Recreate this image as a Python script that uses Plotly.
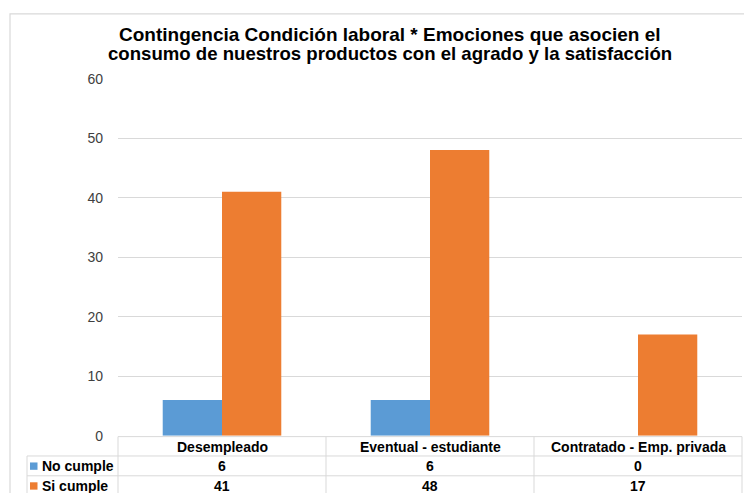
import plotly.graph_objects as go

# Contingency data: employment status vs. emotions linked to the products
categories = ["Desempleado", "Eventual - estudiante", "Contratado - Emp. privada"]
no_cumple = [6, 6, 0]
si_cumple = [41, 48, 17]
series_names = ["No cumple", "Si cumple"]
y_ticks = [0, 10, 20, 30, 40, 50, 60]
title_lines = ["Contingencia Condición laboral * Emociones que asocien el",
               "consumo de nuestros productos con el agrado y la satisfacción"]

BLUE = "#5B9BD5"
ORANGE = "#ED7D31"
GRID = "#D9D9D9"
W, H = 744, 493
FONT = "Liberation Sans, Arial, sans-serif"


def px(x):
    return x / W


def py(y):
    return 1 - y / H


# vertical layout (pixels from the top of the figure)
Y_FRAME = 6
Y_TITLE = [27, 47.5]
Y_PLOT_TOP = 73
Y_PLOT_BOTTOM = 442
ROW_LINES = [443, 463, 483.5]
Y_HEADER = 454
Y_ROWS = [473.5, 494]

fig = go.Figure()
fig.add_bar(x=categories, y=no_cumple, name=series_names[0], marker_color=BLUE,
            marker_line_width=0)
fig.add_bar(x=categories, y=si_cumple, name=series_names[1], marker_color=ORANGE,
            marker_line_width=0)

shapes = []
annotations = []

# outer chart frame
shapes.append(dict(type="rect", xref="paper", yref="paper",
                   x0=px(10), x1=px(746), y0=py(505), y1=py(Y_FRAME),
                   line=dict(color=GRID, width=1.2), fillcolor="rgba(0,0,0,0)", layer="below"))

# data table grid
x_left, x_plot, x_right = 27, 118, 742
col_w = (x_right - x_plot) / len(categories)
for i, yy in enumerate(ROW_LINES):
    x0 = x_plot if i == 0 else x_left
    shapes.append(dict(type="line", xref="paper", yref="paper",
                       x0=px(x0), x1=px(x_right), y0=py(yy), y1=py(yy),
                       line=dict(color=GRID, width=1)))
for k in range(len(categories) + 1):
    xx = x_plot + k * col_w
    shapes.append(dict(type="line", xref="paper", yref="paper",
                       x0=px(xx), x1=px(xx), y0=py(ROW_LINES[0]), y1=py(505),
                       line=dict(color=GRID, width=1)))
shapes.append(dict(type="line", xref="paper", yref="paper",
                   x0=px(x_left), x1=px(x_left), y0=py(ROW_LINES[1]), y1=py(505),
                   line=dict(color=GRID, width=1)))

cell_font = dict(family=FONT, size=14, color="#000000")

# header row with category names
for c in categories:
    annotations.append(dict(x=c, y=py(Y_HEADER), xref="x", yref="paper", text="<b>%s</b>" % c,
                            showarrow=False, font=cell_font, xanchor="center", yanchor="middle"))

# value rows
for row_y, vals in zip(Y_ROWS, (no_cumple, si_cumple)):
    for c, v in zip(categories, vals):
        annotations.append(dict(x=c, y=py(row_y), xref="x", yref="paper", text="<b>%d</b>" % v,
                                showarrow=False, font=cell_font, xanchor="center", yanchor="middle"))

# legend keys in the first column
for row_y, name, col in zip(Y_ROWS, series_names, (BLUE, ORANGE)):
    shapes.append(dict(type="rect", xref="paper", yref="paper",
                       x0=px(30), x1=px(37.5), y0=py(row_y + 3.8), y1=py(row_y - 3.8),
                       fillcolor=col, line=dict(width=0)))
    annotations.append(dict(x=px(40), y=py(row_y), xref="paper", yref="paper",
                            text="<b>%s</b>" % name, showarrow=False, font=cell_font,
                            xanchor="left", yanchor="middle"))

# two-line title
for yy, line, size in zip(Y_TITLE, title_lines, (19, 18.6)):
    annotations.append(dict(x=px(390), y=py(yy), xref="paper", yref="paper",
                            text="<b>%s</b>" % line, showarrow=False,
                            font=dict(family=FONT, size=size, color="#000000"),
                            xanchor="center", yanchor="middle"))

fig.update_layout(
    width=W, height=H,
    margin=dict(l=0, r=0, t=0, b=0),
    paper_bgcolor="white", plot_bgcolor="white",
    barmode="group", bargap=0.43, bargroupgap=0,
    showlegend=False,
    shapes=shapes,
    annotations=annotations,
    xaxis=dict(domain=[px(x_plot), px(x_right)], range=[-0.5, 2.5],
               showticklabels=False, showgrid=False, zeroline=False, showline=False,
               ticks=""),
    yaxis=dict(domain=[py(Y_PLOT_BOTTOM), py(Y_PLOT_TOP)], range=[0, 60], tickvals=y_ticks,
               showgrid=True, gridcolor=GRID, gridwidth=1, zeroline=False, showline=False,
               ticks="", ticklabelstandoff=14,
               tickfont=dict(family=FONT, size=14, color="#404040")),
)

fig.write_html("out.html")
